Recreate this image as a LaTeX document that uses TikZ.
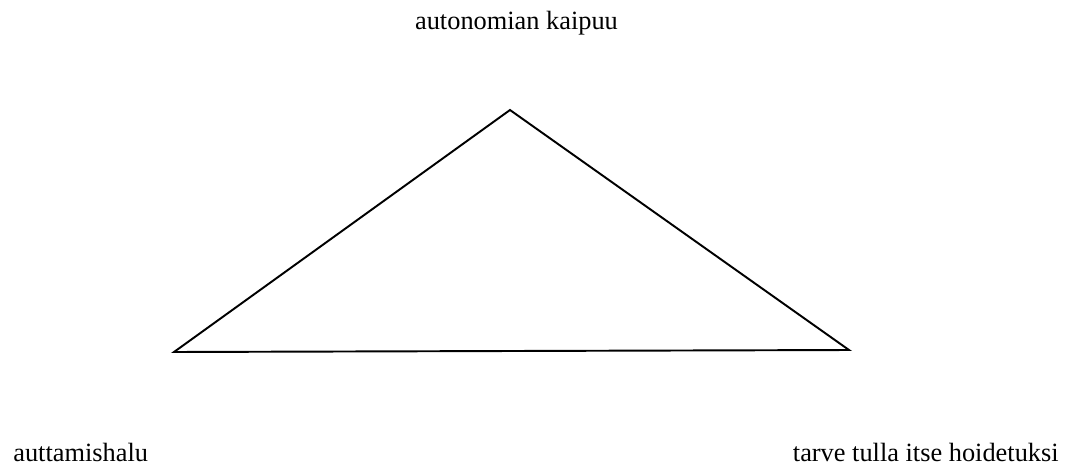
\documentclass[tikz,border=0pt]{standalone}
\usepackage{fontspec}
\setmainfont{Liberation Serif}
\begin{document}
\begin{tikzpicture}[
  lbl/.style={inner sep=0pt, font=\fontsize{15}{18}\selectfont},
  tri/.style={draw=black, line width=1.1pt, line join=miter}
]
\useasboundingbox (0,0) rectangle (21.44,9.34);
\coordinate (apex) at (10.2,7.14);
\coordinate (left) at (3.48,2.30);
\coordinate (right) at (16.98,2.34);
\draw[tri] (apex) -- (right) -- (left) -- cycle;
\node[lbl, anchor=base] (top) at (10.33,8.75) {autonomian kaipuu};
\node[lbl, anchor=base west] (bl) at (0.26,0.11) {auttamishalu};
\node[lbl, anchor=base east] (br) at (21.18,0.11) {tarve tulla itse hoidetuksi};
\end{tikzpicture}
\end{document}
